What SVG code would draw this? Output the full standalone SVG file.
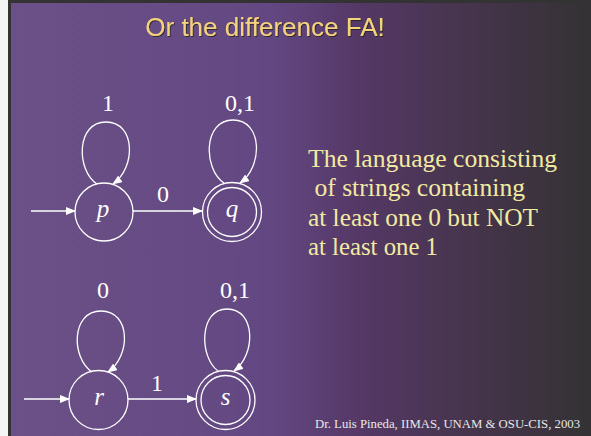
<svg xmlns="http://www.w3.org/2000/svg" width="591" height="436" viewBox="0 0 591 436">
<defs>
<linearGradient id="bg" x1="0" y1="0" x2="1" y2="0">
<stop offset="0" stop-color="#6b5187"/>
<stop offset="0.45" stop-color="#634782"/>
<stop offset="0.6" stop-color="#553866"/>
<stop offset="0.8" stop-color="#45344b"/>
<stop offset="1" stop-color="#343234"/>
</linearGradient>
<marker id="ah" markerWidth="10" markerHeight="8" refX="9" refY="4" orient="auto" markerUnits="userSpaceOnUse">
<path d="M0,0 L10,4 L0,8 Z" fill="#ffffff"/>
</marker>
<filter id="sh" x="-5%" y="-20%" width="110%" height="140%">
<feDropShadow dx="1" dy="1" stdDeviation="0.3" flood-color="#222" flood-opacity="0.8"/>
</filter>
</defs>
<style>
.st{fill:none;stroke:#ffffff;stroke-width:1.3}
.lbl{font-family:"Liberation Serif",serif;font-size:24px;fill:#ffffff;text-anchor:middle}
.nm{font-family:"Liberation Serif",serif;font-size:25px;font-style:italic;fill:#ffffff;text-anchor:middle}
.desc{font-family:"Liberation Serif",serif;font-size:25px;fill:#f2eaa2}
</style>
<rect x="0" y="0" width="591" height="436" fill="#333333"/>
<rect x="0" y="0" width="8" height="436" fill="#f4f4f4"/>
<rect x="11" y="3" width="580" height="433" fill="url(#bg)"/>
<text x="265" y="36" font-family="Liberation Sans, Arial, sans-serif" font-size="26" fill="#f5d27c" text-anchor="middle" filter="url(#sh)">Or the difference FA!</text>

<g id="connectors">
<line class="st" x1="31" y1="211" x2="75" y2="211" marker-end="url(#ah)"/>
<line class="st" x1="133" y1="211" x2="202" y2="211" marker-end="url(#ah)"/>
<path class="st" d="M97,184 C76,170 76,122 106,122 C136,122 136,168 113,184" marker-end="url(#ah)"/>
<path class="st" d="M224,183 C203,169 203,120 233,120 C263,120 263,167 240,183" marker-end="url(#ah)"/>
<line class="st" x1="24" y1="399" x2="69" y2="399" marker-end="url(#ah)"/>
<line class="st" x1="128" y1="399" x2="196" y2="399" marker-end="url(#ah)"/>
<path class="st" d="M92,372 C71,358 71,311 101,311 C131,311 131,356 108,372" marker-end="url(#ah)"/>
<path class="st" d="M218,371 C199,357 199,309 227,309 C256,309 256,355 234,371" marker-end="url(#ah)"/>
<text class="lbl" x="108" y="111">1</text>
<text class="lbl" x="240" y="111">0,1</text>
<text class="lbl" x="163" y="202">0</text>
<text class="lbl" x="103" y="298">0</text>
<text class="lbl" x="235" y="298">0,1</text>
<text class="lbl" x="157" y="391">1</text>
</g>

<g id="p">
<circle class="st" cx="104" cy="212" r="29"/>
<text class="nm" x="103" y="217">p</text>
</g>
<g id="q">
<circle class="st" cx="232" cy="212" r="29.5"/>
<circle class="st" cx="232" cy="212" r="24.5"/>
<text class="nm" x="232" y="217">q</text>
</g>
<g id="r">
<circle class="st" cx="98.5" cy="400" r="29.5"/>
<text class="nm" x="99" y="405">r</text>
</g>
<g id="s">
<circle class="st" cx="225.5" cy="400" r="29.5"/>
<circle class="st" cx="225.5" cy="400" r="24.5"/>
<text class="nm" x="225.5" y="405">s</text>
</g>

<g id="description">
<text class="desc" x="308" y="167" textLength="249" lengthAdjust="spacingAndGlyphs">The language consisting</text>
<text class="desc" x="308" y="196" xml:space="preserve" textLength="217" lengthAdjust="spacingAndGlyphs"> of strings containing</text>
<text class="desc" x="308" y="226" textLength="230" lengthAdjust="spacingAndGlyphs">at least one 0 but NOT</text>
<text class="desc" x="308" y="255" textLength="130" lengthAdjust="spacingAndGlyphs">at least one 1</text>
</g>
<text x="315" y="428" font-family="Liberation Serif, serif" font-size="12.6" fill="#e8e8e8" textLength="265" lengthAdjust="spacingAndGlyphs">Dr. Luis Pineda, IIMAS, UNAM &amp; OSU-CIS, 2003</text>
</svg>
